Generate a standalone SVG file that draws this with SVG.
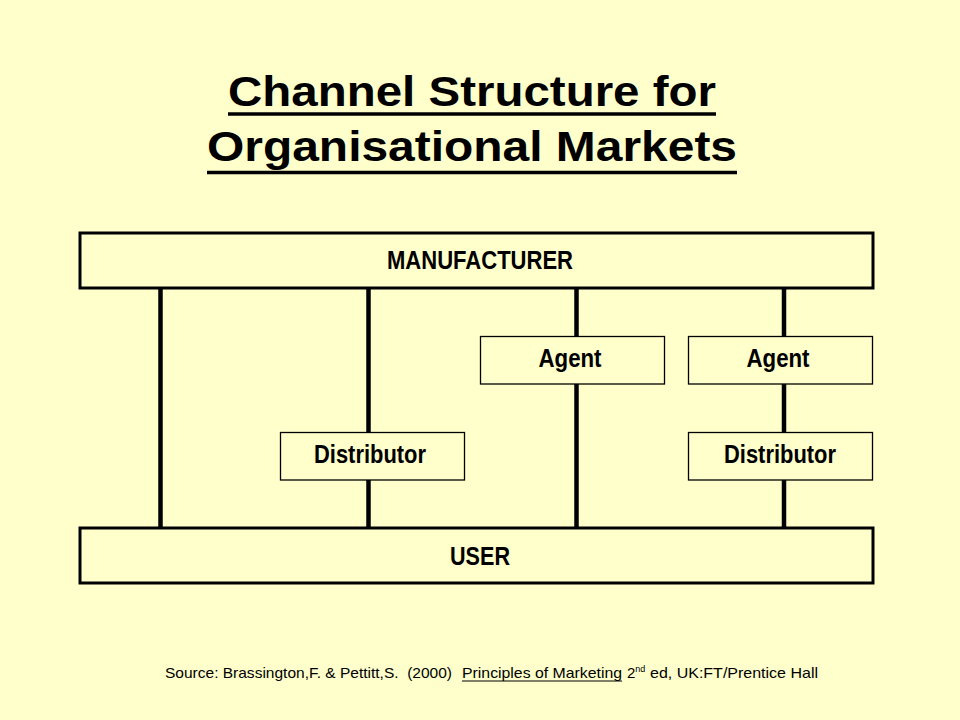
<svg xmlns="http://www.w3.org/2000/svg" width="960" height="720" viewBox="0 0 960 720">
<style>
.bg{fill:#FFFFCC}
.big{fill:#FFFFCC;stroke:#000;stroke-width:3}
.small{fill:#FFFFCC;stroke:#000;stroke-width:1.3}
.lbl{font-family:"Liberation Sans",Arial,sans-serif;font-weight:bold;font-size:26px;fill:#000;text-anchor:middle}
.title{font-family:"Liberation Sans",Arial,sans-serif;font-weight:bold;font-size:42px;fill:#000;text-anchor:middle}
.src{font-family:"Liberation Sans",Arial,sans-serif;font-size:15px;fill:#000}
.conn{stroke:#000;stroke-width:4.5;fill:none}
.ul{stroke:#000;fill:none}
</style>
<rect class="bg" x="0" y="0" width="960" height="720"/>
<g id="title">
<text class="title" x="472" y="106" textLength="488" lengthAdjust="spacingAndGlyphs">Channel Structure for</text>
<line class="ul" x1="228" y1="114" x2="716" y2="114" stroke-width="3.5"/>
<text class="title" x="472" y="161" textLength="530" lengthAdjust="spacingAndGlyphs">Organisational Markets</text>
<line class="ul" x1="207" y1="172.5" x2="737" y2="172.5" stroke-width="3.5"/>
</g>
<g id="connectors">
<line class="conn" x1="160.5" y1="288" x2="160.5" y2="528"/>
<line class="conn" x1="368.5" y1="288" x2="368.5" y2="528"/>
<line class="conn" x1="576.5" y1="288" x2="576.5" y2="528"/>
<line class="conn" x1="784" y1="288" x2="784" y2="528"/>
</g>
<g id="manufacturer">
<rect class="big" x="80" y="233" width="793" height="55"/>
<text class="lbl" x="480" y="269" textLength="186" lengthAdjust="spacingAndGlyphs">MANUFACTURER</text>
</g>
<g id="agent1">
<rect class="small" x="480.5" y="336.5" width="184" height="47.5"/>
<text class="lbl" x="570" y="367" textLength="63" lengthAdjust="spacingAndGlyphs">Agent</text>
</g>
<g id="agent2">
<rect class="small" x="688.5" y="336.5" width="184" height="47.5"/>
<text class="lbl" x="778" y="367" textLength="63" lengthAdjust="spacingAndGlyphs">Agent</text>
</g>
<g id="distributor1">
<rect class="small" x="280.5" y="432.5" width="184" height="47.5"/>
<text class="lbl" x="370" y="463" textLength="112" lengthAdjust="spacingAndGlyphs">Distributor</text>
</g>
<g id="distributor2">
<rect class="small" x="688.5" y="432.5" width="184" height="47.5"/>
<text class="lbl" x="780" y="463" textLength="112" lengthAdjust="spacingAndGlyphs">Distributor</text>
</g>
<g id="user">
<rect class="big" x="80" y="528" width="793" height="55"/>
<text class="lbl" x="480" y="565" textLength="60" lengthAdjust="spacingAndGlyphs">USER</text>
</g>
<g id="source">
<text class="src" x="165" y="678" textLength="287" lengthAdjust="spacingAndGlyphs" xml:space="preserve">Source: Brassington,F. &amp; Pettitt,S.  (2000)</text>
<text class="src" x="462" y="678" textLength="160" lengthAdjust="spacingAndGlyphs">Principles of Marketing</text>
<line class="ul" x1="462" y1="681" x2="622" y2="681" stroke-width="1"/>
<text class="src" x="627" y="678">2<tspan font-size="9" dy="-6">nd</tspan></text>
<text class="src" x="650" y="678" textLength="168" lengthAdjust="spacingAndGlyphs">ed, UK:FT/Prentice Hall</text>
</g>
</svg>
